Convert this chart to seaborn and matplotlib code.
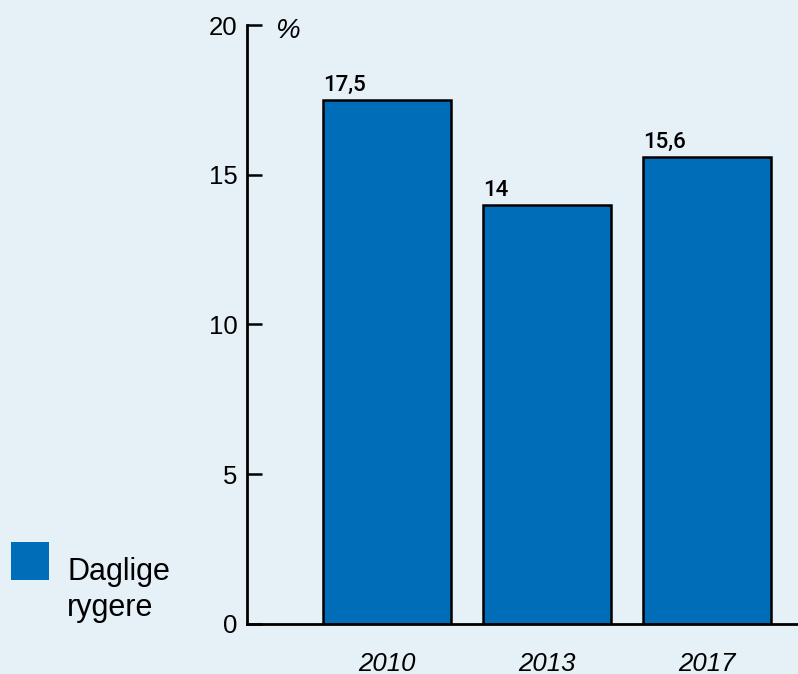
import numpy as np
import pandas as pd
import matplotlib.pyplot as plt
from matplotlib.patches import Rectangle
import seaborn as sns

# Data
years = ['2010', '2013', '2017']
daily_smokers = [17.5, 14.0, 15.6]
value_labels = ['17,5', '14', '15,6']
y_ticks = [0, 5, 10, 15, 20]

df = pd.DataFrame({'År': years, 'Daglige rygere': daily_smokers})

bg = '#e6f0f7'
bar_color = '#006db8'

sns.set_style('white')
plt.rcParams['font.family'] = ['Liberation Sans', 'DejaVu Sans']
plt.rcParams['text.color'] = 'black'

fig = plt.figure(figsize=(7.98, 6.74), dpi=100, facecolor=bg)
ax = fig.add_axes([0.3095, 0.0742, 0.6905, 0.8887])
ax.set_facecolor(bg)

sns.barplot(data=df, x='År', y='Daglige rygere', color=bar_color, width=0.8,
            edgecolor='black', linewidth=1.8, saturation=1, ax=ax)

# Value labels above bars, left aligned with each bar
for i, (v, lab) in enumerate(zip(daily_smokers, value_labels)):
    ax.text(i - 0.4, v + 0.12, lab, ha='left', va='bottom', fontsize=16,
            fontweight='medium', family='Roboto', color='black')

ax.set_xlim(-0.875, 2.57)
ax.set_ylim(0, 20)
ax.set_yticks(y_ticks)
ax.set_yticklabels([str(t) for t in y_ticks], fontsize=18.5, color='black')
ax.tick_params(axis='y', left=True, direction='in', length=11, width=1.8,
               pad=7, colors='black')
ax.tick_params(axis='x', bottom=False, length=0, pad=20)
for lab in ax.get_xticklabels():
    lab.set_fontsize(18.5)
    lab.set_fontstyle('italic')
    lab.set_color('black')

ax.set_xlabel('')
ax.set_ylabel('')
sns.despine(ax=ax, top=True, right=True)
for side in ['left', 'bottom']:
    ax.spines[side].set_linewidth(2)
    ax.spines[side].set_color('black')

# Unit label
ax.text(-0.625, 19.8, '%', ha='center', va='center', fontsize=20, fontstyle='italic')

# Legend
fig.add_artist(Rectangle((11 / 798, 1 - 580 / 674), 38 / 798, 38 / 674,
                         transform=fig.transFigure, facecolor=bar_color, edgecolor='none'))
fig.text(67 / 798, 1 - 590 / 674, 'Daglige\nrygere', ha='left', va='center',
         fontsize=22, linespacing=1.25)

fig.savefig('out.png', dpi=100, facecolor=bg)
